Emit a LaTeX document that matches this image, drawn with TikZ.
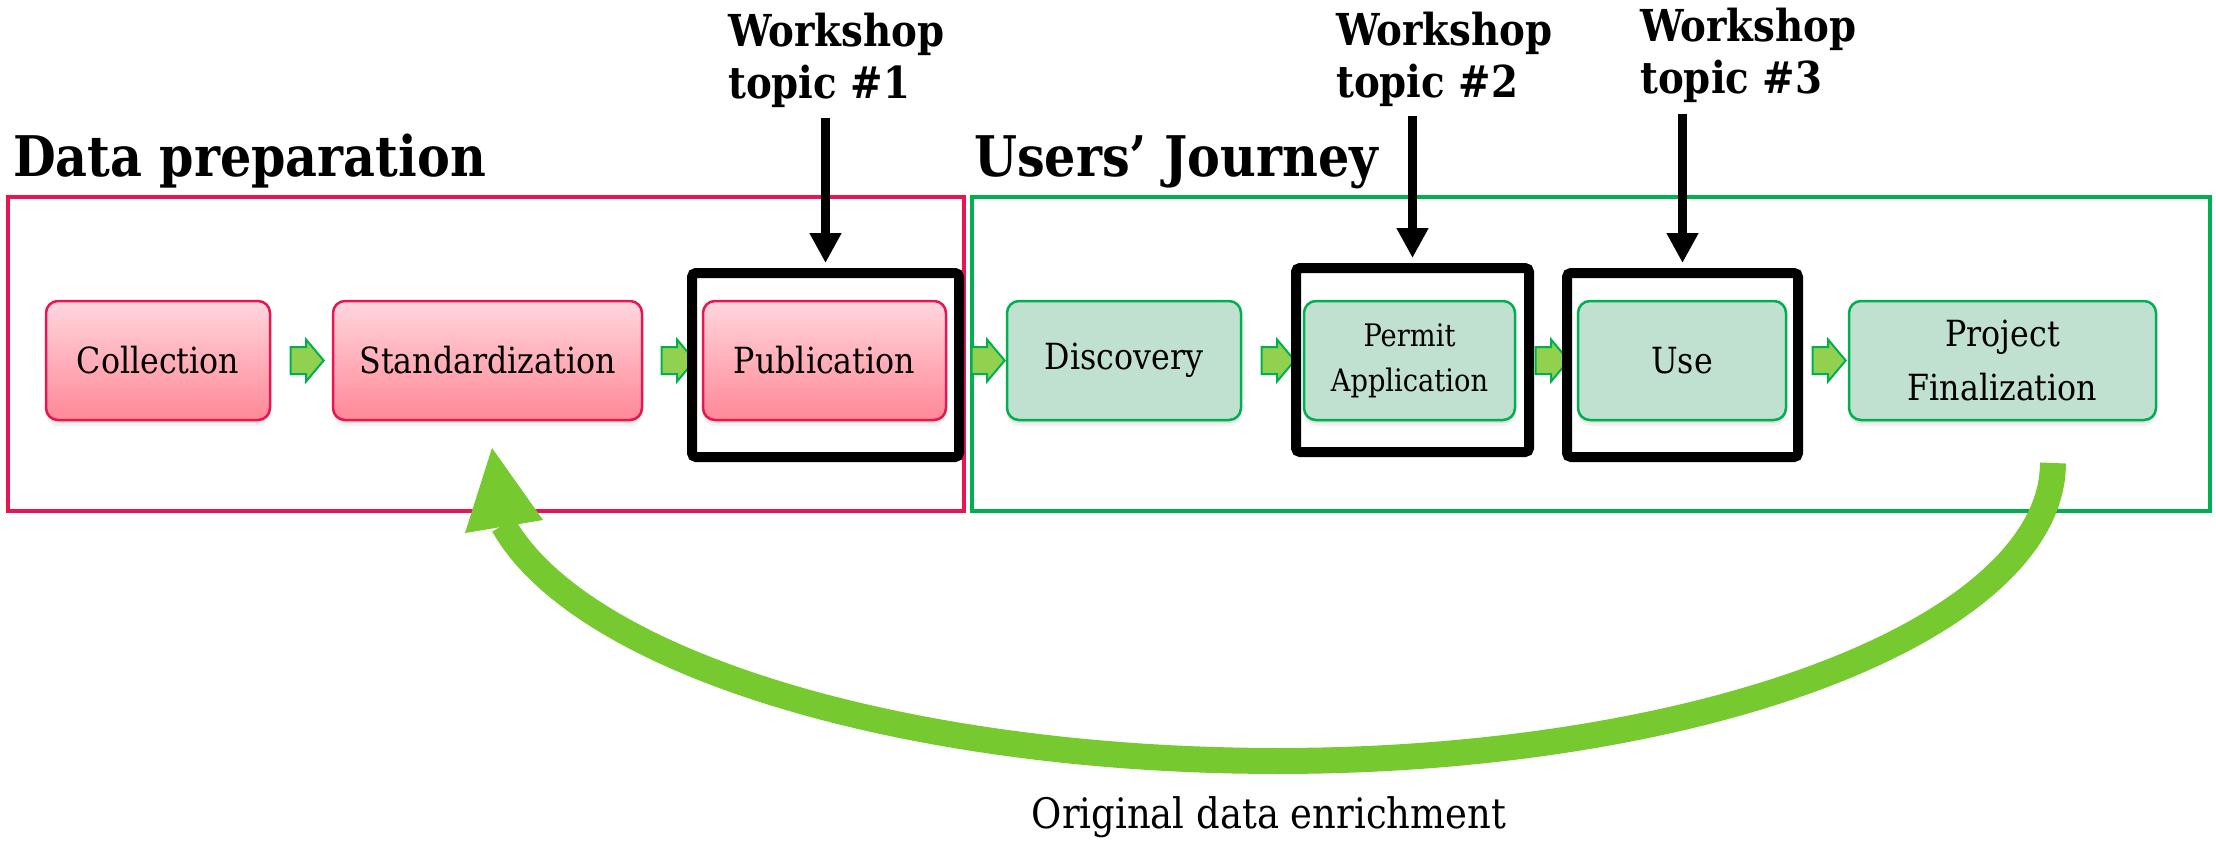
\documentclass[tikz,border=0pt]{standalone}
\usepackage{fontspec}
\setmainfont{DejaVu Serif}[FakeStretch=0.88]
\usetikzlibrary{arrows.meta,shapes.arrows,shadows,calc}

\definecolor{crimson}{RGB}{232,22,80}
\definecolor{leaf}{RGB}{0,176,80}
\definecolor{pinktop}{RGB}{255,214,222}
\definecolor{pinkbot}{RGB}{255,136,150}
\definecolor{mint}{RGB}{192,224,208}
\definecolor{lime}{RGB}{146,208,80}
\definecolor{loopgreen}{RGB}{118,201,46}

\begin{document}
\begin{tikzpicture}[x=1pt,y=-1pt,
  softshadow/.style={
    drop shadow={shadow xshift=0pt,shadow yshift=-3pt,opacity=.18},
    drop shadow={shadow xshift=0pt,shadow yshift=-6pt,opacity=.10}},
  stage/.style={rounded corners=12pt, line width=2.5pt, minimum height=119pt,
    inner sep=0pt, align=center, font=\fontsize{36}{54}\selectfont, softshadow},
  prepstage/.style={stage, draw=crimson, top color=pinktop, bottom color=pinkbot},
  userstage/.style={stage, draw=leaf, fill=mint},
  zone/.style={line width=4.5pt, inner sep=0pt},
  frame/.style={draw=black, line width=10pt, rounded corners=4pt, inner sep=0pt},
  flow/.style={single arrow, draw=leaf, fill=lime, line width=2pt,
    minimum height=33pt, minimum width=40pt, inner xsep=0pt, inner ysep=12.5pt,
    single arrow head extend=7.5pt, single arrow tip angle=100},
  heading/.style={inner sep=0pt, font=\bfseries\fontsize{56}{66}\selectfont},
  topic/.style={inner sep=0pt, align=left, font=\bfseries\fontsize{44}{52}\selectfont},
  topicarrow/.style={line width=9pt, -{Triangle[width=30pt,length=30pt]}},
]
\useasboundingbox (0,0) rectangle (2216,843);

% the two phases
\node[zone, draw=crimson, minimum width=956pt, minimum height=314pt] (prepzone) at (486,354) {};
\node[zone, draw=leaf, minimum width=1238pt, minimum height=314pt] (userzone) at (1591,354) {};

\node[heading, anchor=base west] (prephead) at (13,176) {Data preparation};
\node[heading, anchor=base west] (userhead) at (974,176) {Users’ Journey};

% process stages
\node[prepstage, minimum width=224pt] (collection) at (158,360.5) {Collection};
\node[prepstage, minimum width=309pt] (standard) at (487.5,360.5) {Standardization};
\node[prepstage, minimum width=243pt] (publication) at (824.5,360.5) {Publication};
\node[userstage, minimum width=234pt] (discovery) at (1124,360.5) {Discovery};
\node[userstage, minimum width=211pt, font=\fontsize{31}{45}\selectfont] (permit) at (1409.5,360.5) {Permit\\Application};
\node[userstage, minimum width=208pt] (use) at (1682,360.5) {Use};
\node[userstage, minimum width=307pt] (project) at (2002.5,360.5) {Project\\Finalization};

% flow between stages
\node[flow] at ($(collection.east)!0.5!(standard.west)$) {};
\node[flow] at ($(standard.east)!0.5!(publication.west)$) {};
\node[flow] at ($(publication.east)!0.5!(discovery.west)+(6,0)$) {};
\node[flow] at ($(discovery.east)!0.5!(permit.west)$) {};
\node[flow] at ($(permit.east)!0.5!(use.west)$) {};
\node[flow] at ($(use.east)!0.5!(project.west)+(6,0)$) {};

% workshop focus frames
\node[frame, minimum width=267pt, minimum height=184pt] (f1) at (825.5,365) {};
\node[frame, minimum width=233pt, minimum height=184pt] (f2) at (1412.5,360) {};
\node[frame, minimum width=231pt, minimum height=184pt] (f3) at (1682.5,365) {};

% the base anchor of these two-line labels sits on the second line
\node[topic, anchor=base west] (w1) at (728,99) {Workshop\\topic \#1};
\node[topic, anchor=base west] (w2) at (1336,97) {Workshop\\topic \#2};
\node[topic, anchor=base west] (w3) at (1640,93) {Workshop\\topic \#3};

\draw[topicarrow] ($(f1.north |- w1.south)+(0,10)$) -- ([yshift=5pt]f1.north);
\draw[topicarrow] ($(f2.north |- w2.south)+(0,10)$) -- ([yshift=5pt]f2.north);
\draw[topicarrow] ($(f3.north |- w3.south)+(0,12)$) -- ([yshift=5pt]f3.north);

% feedback loop back to data preparation
\coordinate (loopcenter) at (1278,463);
\draw[line width=26pt, loopgreen, line join=round]
  plot[domain=0:90, samples=60] ({1278+775*cos(\x)}, {463+298*sin(\x)})
  -- plot[domain=90:168, samples=50] ({1278+792*cos(\x)}, {463+298*sin(\x)});
\fill[loopgreen] (492,448) coordinate (looptip) -- (465,533) -- (543,520) -- cycle;

\node[inner sep=0pt, anchor=base, font=\fontsize{42}{50}\selectfont] (enrich) at (1269,828) {Original data enrichment};
\end{tikzpicture}
\end{document}
